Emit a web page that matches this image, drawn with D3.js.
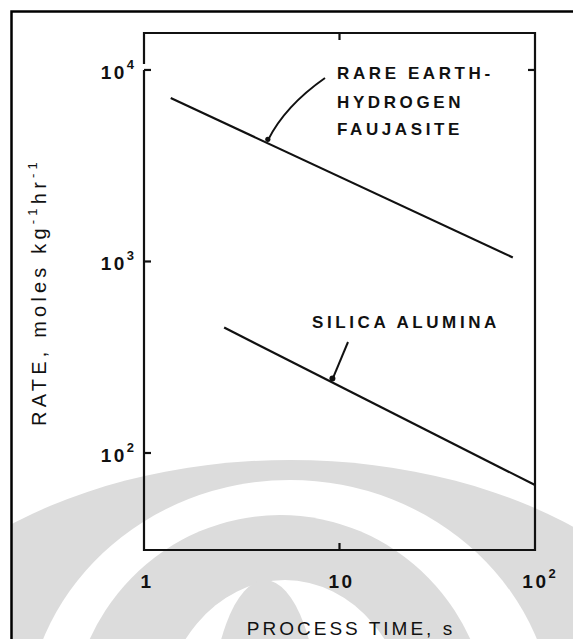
<!DOCTYPE html>
<html>
<head>
<meta charset="utf-8">
<script src="https://cdn.jsdelivr.net/npm/d3@7"></script>
<style>
body { margin: 0; background: #fff; }
svg { display: block; }
text { font-family: "Liberation Sans", Arial, sans-serif; fill: #111; }
</style>
</head>
<body>
<script>
// values
var rareEarthTime = [1.37, 77];
var rareEarthRate = [7130, 1050];
var silicaTime = [2.57, 100];
var silicaRate = [452, 68];
var xTicks = [1, 10, 100];
var yTicks = [100, 1000, 10000];

var width = 573, height = 639;
var svg = d3.select("body").append("svg").attr("width", width).attr("height", height);

var pLeft = 144, pRight = 535, pTop = 33, pBottom = 550;
var x = d3.scaleLog().domain([1, 100]).range([pLeft, pRight]);
var y = d3.scaleLog().domain([Math.pow(10, 1.4935), Math.pow(10, 4.193)]).range([pBottom, pTop]);

// faint watermark behind the chart
var wm = svg.append("g").attr("class", "watermark");
wm.append("clipPath").attr("id", "frameclip")
    .append("rect").attr("x", 12).attr("y", 12).attr("width", width - 12).attr("height", height - 12);
var rings = [
    {cx: 290, rx: 430, ry: 270, fill: "#dcdcdc"},
    {cx: 290, rx: 265, ry: 250, fill: "#ffffff"},
    {cx: 280, rx: 210, ry: 215, fill: "#dcdcdc"},
    {cx: 285, rx: 125, ry: 150, fill: "#ffffff"},
    {cx: 265, rx: 55, ry: 150, fill: "#dcdcdc"}
];
wm.selectAll("ellipse").data(rings).enter().append("ellipse")
    .attr("clip-path", "url(#frameclip)")
    .attr("cx", function (d) { return d.cx; }).attr("cy", 730)
    .attr("rx", function (d) { return d.rx; })
    .attr("ry", function (d) { return d.ry; })
    .attr("fill", function (d) { return d.fill; });

// outer frame (top and left edges)
svg.append("path")
    .attr("d", "M11.5," + height + "V11.5H" + width)
    .attr("fill", "none").attr("stroke", "#000").attr("stroke-width", 2.5);

// plot box, with the small break in the left edge near the top
var box = svg.append("g").attr("stroke", "#111").attr("stroke-width", 2.2).attr("fill", "none");
box.append("path").attr("d", "M" + pLeft + "," + (pTop + 31) + "V" + pTop + "H" + pRight + "V" + pBottom + "H" + pLeft + "V" + (pTop + 37));

// ticks, all pointing inward
var tk = 7;
box.selectAll(".xt").data([10]).enter().append("path")
    .attr("d", function (d) {
        return "M" + x(d) + "," + pTop + "v" + tk + "M" + x(d) + "," + pBottom + "v" + (-tk);
    });
box.selectAll(".yt").data(yTicks).enter().append("path")
    .attr("d", function (d) { return "M" + pLeft + "," + y(d) + "h" + tk; });
box.selectAll(".yr").data([10000]).enter().append("path")
    .attr("d", function (d) { return "M" + pRight + "," + y(d) + "h" + (-tk); });

// tick labels
function powLabel(g, base, exp, px, py, anchor) {
    var t = g.append("text").attr("x", px).attr("y", py)
        .attr("text-anchor", anchor)
        .attr("font-size", 19).attr("font-weight", "bold").attr("letter-spacing", 2.5);
    t.append("tspan").text(base);
    if (exp) t.append("tspan").attr("dy", -10).attr("font-size", 13).attr("letter-spacing", 0).text(exp);
    return t;
}
var labels = svg.append("g");
yTicks.forEach(function (d) {
    var e = Math.round(Math.log10(d));
    powLabel(labels, "10", String(e), 134, y(d) + 9, "end");
});
xTicks.forEach(function (d) {
    var e = Math.round(Math.log10(d));
    if (e === 0) powLabel(labels, "1", null, x(d) + 3, 588, "middle");
    else if (e === 1) powLabel(labels, "10", null, x(d) + 2, 588, "middle");
    else powLabel(labels, "10", String(e), x(d) + 4, 588, "middle");
});

// axis titles
svg.append("text")
    .attr("x", 351).attr("y", 635)
    .attr("text-anchor", "middle")
    .attr("font-size", 19).attr("letter-spacing", 3)
    .text("PROCESS TIME, s");

var yt = svg.append("text")
    .attr("transform", "translate(46,292) rotate(-90)")
    .attr("text-anchor", "middle")
    .attr("font-size", 20).attr("letter-spacing", 4.2);
yt.append("tspan").text("RATE, moles  kg");
yt.append("tspan").attr("dy", -9).attr("font-size", 13).text("-1");
yt.append("tspan").attr("dy", 9).text("hr");
yt.append("tspan").attr("dy", -9).attr("font-size", 13).text("-1");

// data lines
var line = d3.line()
    .x(function (d) { return x(d[0]); })
    .y(function (d) { return y(d[1]); });
var series = [d3.zip(rareEarthTime, rareEarthRate), d3.zip(silicaTime, silicaRate)];
svg.append("g").selectAll("path").data(series).enter().append("path")
    .attr("d", line)
    .attr("fill", "none").attr("stroke", "#111").attr("stroke-width", 2.2);

// annotations
var ann = svg.append("g").attr("font-size", 17).attr("font-weight", "bold").attr("letter-spacing", 3.6);
ann.append("text").attr("x", 337).attr("y", 79).text("RARE EARTH-");
ann.append("text").attr("x", 337).attr("y", 108).text("HYDROGEN");
ann.append("text").attr("x", 337).attr("y", 135).text("FAUJASITE");
ann.append("text").attr("x", 312).attr("y", 328).text("SILICA ALUMINA");

// leader lines to the curves: log-log interpolation along a series
function onLine(tx, ts, rs) {
    var i = d3.bisectRight(ts, tx) - 1;
    i = Math.max(0, Math.min(ts.length - 2, i));
    var f = Math.log(tx / ts[i]) / Math.log(ts[i + 1] / ts[i]);
    return rs[i] * Math.pow(rs[i + 1] / rs[i], f);
}
var reX = 4.3, reY = onLine(reX, rareEarthTime, rareEarthRate);
var saX = 9.2, saY = onLine(saX, silicaTime, silicaRate);
var leaders = svg.append("g").attr("fill", "none").attr("stroke", "#111").attr("stroke-width", 2);
leaders.append("path")
    .attr("d", "M325,78C305,92 282,112 " + x(reX) + "," + (y(reY) - 3));
leaders.append("path")
    .attr("d", "M348,342L" + x(saX) + "," + (y(saY) - 3));
svg.append("circle").attr("cx", x(reX)).attr("cy", y(reY) - 4).attr("r", 2.6).attr("fill", "#111");
svg.append("circle").attr("cx", x(saX)).attr("cy", y(saY) - 4).attr("r", 3).attr("fill", "#111");
</script>
</body>
</html>
